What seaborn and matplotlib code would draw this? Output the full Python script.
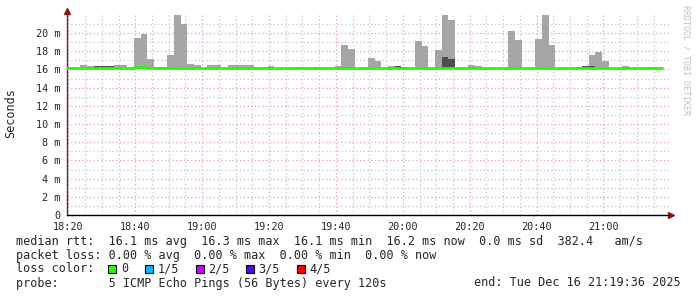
import numpy as np
import pandas as pd
import matplotlib
matplotlib.use("Agg")
import matplotlib.pyplot as plt
from matplotlib.patches import Rectangle
import seaborn as sns

# ---------------- data (ms), one value per 2-minute probe bin starting 18:19:36 ----------------
bin_minutes = 2
rtt_max = [16.26, 16.20, 16.48, 16.34, 16.35, 16.35, 16.34, 16.48, 16.48, 16.10,
           19.50, 19.90, 17.14, 16.30, 16.30, 17.58, 21.98, 20.99, 16.59, 16.48,
           16.20, 16.48, 16.48, 16.10, 16.48, 16.48, 16.48, 16.48, 16.26, 16.26,
           16.37, 16.20, 16.10, 16.10, 16.26, 16.26, 16.26, 16.26, 16.20, 16.20,
           16.37, 18.68, 18.24, 16.20, 16.20, 17.30, 16.92, 16.10, 16.37, 16.35,
           16.30, 16.20, 19.16, 18.57, 16.10, 18.13, 21.98, 21.43, 16.20, 16.20,
           16.48, 16.37, 16.10, 16.30, 16.10, 16.20, 20.20, 19.23, 16.20, 16.20,
           19.34, 21.98, 18.68, 16.10, 16.10, 16.20, 16.26, 16.37, 17.58, 17.91,
           16.92, 16.10, 16.20, 16.37, 16.10, 16.20, 16.26, 16.26, 16.20]
rtt_inner = [16.00, 16.00, 16.00, 16.00, 16.35, 16.35, 16.33, 16.00, 16.00, 16.00,
             16.30, 16.00, 16.00, 16.00, 16.30, 16.00, 16.00, 16.00, 16.00, 16.00,
             16.00, 16.00, 16.00, 16.00, 16.00, 16.00, 16.00, 16.00, 16.00, 16.00,
             16.00, 16.00, 16.00, 16.00, 16.00, 16.00, 16.00, 16.00, 16.00, 16.00,
             16.00, 16.30, 16.00, 16.00, 16.00, 16.00, 16.00, 16.00, 16.00, 16.35,
             16.30, 16.00, 16.00, 16.00, 16.00, 16.00, 17.36, 17.14, 16.00, 16.00,
             16.00, 16.00, 16.00, 16.00, 16.00, 16.00, 16.00, 16.00, 16.00, 16.00,
             16.00, 16.00, 16.00, 16.00, 16.00, 16.00, 16.00, 16.37, 16.37, 16.00,
             16.00, 16.00, 16.00, 16.00, 16.00, 16.00, 16.00, 16.00, 16.00]
rtt_median = [16.15, 16.15, 16.20, 16.20, 16.20, 16.20, 16.20, 16.20, 16.20, 16.10,
              16.25, 16.25, 16.20, 16.10, 16.10, 16.20, 16.20, 16.20, 16.10, 16.10,
              16.15, 16.20, 16.10, 16.10, 16.20, 16.20, 16.20, 16.15, 16.10, 16.10,
              16.15, 16.20, 16.10, 16.10, 16.15, 16.15, 16.15, 16.15, 16.20, 16.20,
              16.15, 16.20, 16.20, 16.15, 16.15, 16.20, 16.20, 16.10, 16.20, 16.20,
              16.10, 16.20, 16.15, 16.15, 16.10, 16.15, 16.15, 16.15, 16.15, 16.15,
              16.20, 16.20, 16.10, 16.20, 16.10, 16.20, 16.15, 16.15, 16.15, 16.15,
              16.20, 16.20, 16.20, 16.10, 16.10, 16.15, 16.15, 16.15, 16.15, 16.15,
              16.15, 16.10, 16.20, 16.15, 16.10, 16.15, 16.15, 16.15, 16.20]
smoke_base = 16.0

x_tick_labels = ["18:20", "18:40", "19:00", "19:20", "19:40", "20:00", "20:20", "20:40", "21:00"]
x_tick_minutes = [0.4, 20.4, 40.4, 60.4, 80.4, 100.4, 120.4, 140.4, 160.4]
y_tick_values = [0, 2, 4, 6, 8, 10, 12, 14, 16, 18, 20]
y_tick_labels = ["0"] + [f"{v} m" for v in y_tick_values[1:]]

stats_line = "median rtt:  16.1 ms avg  16.3 ms max  16.1 ms min  16.2 ms now  0.0 ms sd  382.4   am/s"
loss_line = "packet loss: 0.00 % avg  0.00 % max  0.00 % min  0.00 % now"
probe_line = "probe:       5 ICMP Echo Pings (56 Bytes) every 120s"
end_line = "end: Tue Dec 16 21:19:36 2025"
loss_labels = ["0", "1/5", "2/5", "3/5", "4/5"]
loss_colors = ["#22ff00", "#00b8ff", "#cc00ff", "#5500ff", "#ff0000"]

# ---------------- figure ----------------
sns.set_style("white")
plt.rcParams["font.family"] = ["DejaVu Sans Mono", "DejaVu Sans"]

W, H = 697, 297
fig = plt.figure(figsize=(W / 100, H / 100), dpi=100)
fig.patch.set_facecolor("white")
ax = fig.add_axes([67 / W, (H - 215) / H, 602 / W, 202 / H])

n = len(rtt_max)
t = np.arange(n) * bin_minutes
df = pd.DataFrame({"t": t, "max": rtt_max, "inner": rtt_inner, "median": rtt_median})

ax.bar(df["t"], df["max"] - smoke_base, bottom=smoke_base, width=bin_minutes,
       align="edge", color="#a6a6a6", linewidth=0, zorder=2)
ax.bar(df["t"], df["inner"] - smoke_base, bottom=smoke_base, width=bin_minutes,
       align="edge", color="#4e4e4e", linewidth=0, zorder=3)

step = pd.DataFrame({"t": np.append(t, t[-1] + bin_minutes),
                     "median": np.append(df["median"].values, df["median"].values[-1])})
sns.lineplot(data=step, x="t", y="median", drawstyle="steps-post", color="#22ff00",
             linewidth=2.0, estimator=None, ax=ax, zorder=4)

ax.set_xlim(0, 180)
ax.set_ylim(0, 202 / 9.1)
ax.set_xticks(x_tick_minutes)
ax.set_xticklabels(x_tick_labels)
ax.set_xticks([0.4 + 5 * i for i in range(36)], minor=True)
ax.set_yticks(y_tick_values)
ax.set_yticklabels(y_tick_labels)
ax.set_yticks(list(range(1, 23, 2)), minor=True)
ax.tick_params(axis="both", which="major", labelsize=7.3, length=2, pad=3, color="#d08080")
ax.tick_params(axis="both", which="minor", length=0)
ax.set_xlabel("")
ax.set_ylabel("")

ax.grid(which="major", color="#e8a0a0", linestyle=(0, (1, 2)), linewidth=0.9, zorder=0)
ax.grid(which="minor", color="#c4c4c4", linestyle=(0, (1, 2)), linewidth=0.9, zorder=0)
ax.set_axisbelow(True)

for s in ["top", "right"]:
    ax.spines[s].set_visible(False)
ax.spines["left"].set_color("#503030")
ax.spines["bottom"].set_color("#000000")
ax.spines["left"].set_linewidth(1.0)
ax.spines["bottom"].set_linewidth(1.0)
ax.plot([0, 0], [1.0, 1.012], transform=ax.transAxes, color="#503030", lw=1.0, clip_on=False)
ax.plot([1.0, 1.003], [0, 0], transform=ax.transAxes, color="#000000", lw=1.0, clip_on=False)
ax.plot([0], [1.012], marker="^", markersize=4.5, color="#8b1a1a", transform=ax.transAxes, clip_on=False)
ax.plot([1.004], [0], marker=">", markersize=4.5, color="#8b1a1a", transform=ax.transAxes, clip_on=False)

def ft(x, y, s, **kw):
    fig.text(x / W, 1 - y / H, s, **kw)

ft(11, 113, "Seconds", rotation=90, va="center", ha="center", fontsize=8.5)
ft(686, 5, "RRDTOOL / TOBI OETIKER", rotation=270, va="top", ha="center", fontsize=6, color="#c0c0c0")

fs = 8.45
ft(16, 241, stats_line, va="center", ha="left", fontsize=fs)
ft(16, 255, loss_line, va="center", ha="left", fontsize=fs)
ft(16, 269, "loss color:", va="center", ha="left", fontsize=fs)
sq_x = [108, 145, 196, 246, 297]
lb_x = [121, 158, 208, 258, 309]
for c, lab, sx, lx in zip(loss_colors, loss_labels, sq_x, lb_x):
    fig.add_artist(Rectangle((sx / W, 1 - 273 / H), 8 / W, 8 / H, transform=fig.transFigure,
                             facecolor=c, edgecolor="black", linewidth=0.8))
    ft(lx, 269, lab, va="center", ha="left", fontsize=fs)
ft(16, 283, probe_line, va="center", ha="left", fontsize=fs)
ft(681, 283, end_line, va="center", ha="right", fontsize=fs)

fig.savefig("out.png", dpi=100, facecolor="white")
